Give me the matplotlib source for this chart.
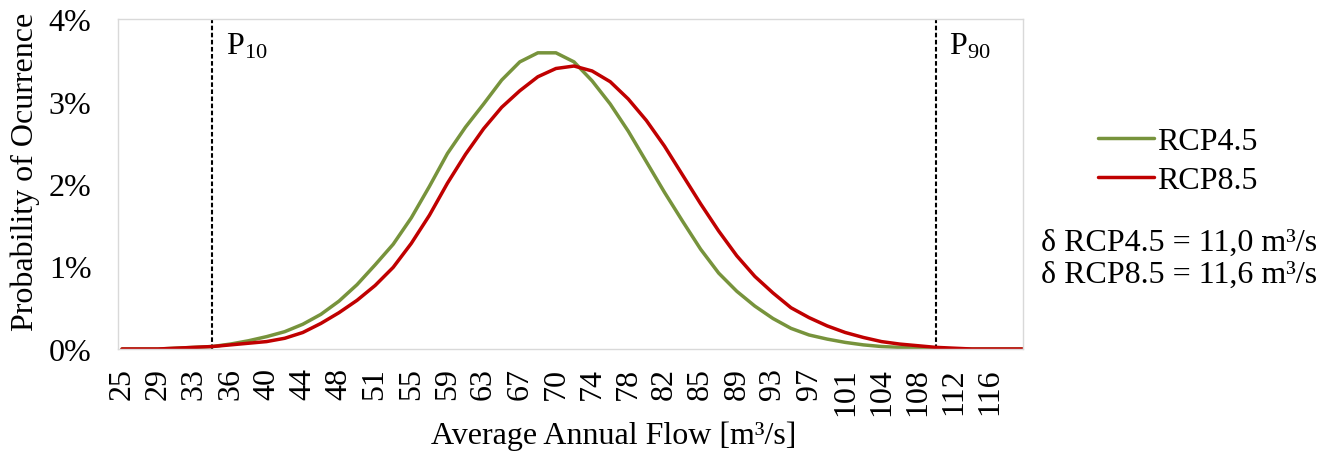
import matplotlib
matplotlib.use("Agg")
import matplotlib.pyplot as plt

# ---- data ----
tick_labels = ["25", "29", "33", "36", "40", "44", "48", "51", "55", "59", "63", "67",
               "70", "74", "78", "82", "85", "89", "93", "97", "101", "104", "108", "112", "116"]
n_categories = 51
rcp45 = [0.00, 0.00, 0.00, 0.01, 0.02, 0.03, 0.06, 0.10, 0.15, 0.21,
         0.30, 0.42, 0.58, 0.78, 1.02, 1.27, 1.59, 1.97, 2.37, 2.69,
         2.97, 3.26, 3.48, 3.59, 3.59, 3.48, 3.25, 2.97, 2.64, 2.27,
         1.90, 1.55, 1.21, 0.92, 0.70, 0.52, 0.37, 0.25, 0.17, 0.12,
         0.08, 0.05, 0.03, 0.02, 0.01, 0.01, 0.00, 0.00, 0.00, 0.00, 0.00]
rcp85 = [0.00, 0.00, 0.00, 0.01, 0.02, 0.03, 0.05, 0.07, 0.09, 0.13,
         0.20, 0.31, 0.44, 0.59, 0.77, 0.99, 1.28, 1.62, 2.01, 2.36,
         2.67, 2.93, 3.13, 3.30, 3.40, 3.43, 3.37, 3.24, 3.03, 2.77,
         2.46, 2.11, 1.76, 1.43, 1.13, 0.88, 0.68, 0.50, 0.38, 0.28,
         0.20, 0.14, 0.09, 0.06, 0.04, 0.02, 0.01, 0.00, 0.00, 0.00, 0.00]
p10_index = 5
p90_index = 45
series_names = ["RCP4.5", "RCP8.5"]
delta_text = ["δ RCP4.5 = 11,0 m³/s", "δ RCP8.5 = 11,6 m³/s"]

plt.rcParams['font.family'] = ['Liberation Serif', 'DejaVu Serif']
plt.rcParams['mathtext.fontset'] = 'custom'
plt.rcParams['mathtext.rm'] = 'Liberation Serif'

W, H = 1336, 452
fig = plt.figure(figsize=(W / 100, H / 100), dpi=100)
ax = fig.add_axes([118 / W, 1 - 350 / H, (1023 - 118) / W, (350 - 20) / H])

x = list(range(n_categories))
green = "#77933C"
red = "#C00000"
fs = 23

ax.plot(x, [v / 100 for v in rcp45], color=green, lw=2.5, label=series_names[0],
        solid_capstyle='round', solid_joinstyle='round')
ax.plot(x, [v / 100 for v in rcp85], color=red, lw=2.5, label=series_names[1],
        solid_capstyle='round', solid_joinstyle='round')

for xi in (p10_index, p90_index):
    ax.axvline(xi, color="black", lw=1.5, linestyle=(0, (2.2, 1.2)), zorder=1)

ax.text(p10_index + 0.75, 0.0367, r"$\mathrm{P_{10}}$", fontsize=fs, va="center", ha="left")
ax.text(p90_index + 0.75, 0.0367, r"$\mathrm{P_{90}}$", fontsize=fs, va="center", ha="left")

ax.set_xlim(-0.22, 49.83)
ax.set_ylim(0, 0.04)
ax.set_xticks(list(range(0, 2 * len(tick_labels), 2)))
ax.set_xticklabels(tick_labels, rotation=90, fontsize=fs)
ax.set_yticks([0, 0.01, 0.02, 0.03, 0.04])
ax.set_yticklabels(["0%", "1%", "2%", "3%", "4%"], fontsize=fs)
ax.tick_params(axis='both', length=0)
ax.tick_params(axis='x', pad=13)
ax.tick_params(axis='y', pad=19)
for s in ax.spines.values():
    s.set_color("#D9D9D9")
    s.set_linewidth(1.0)

ax.set_xlabel("Average Annual Flow [m³/s]", fontsize=fs, labelpad=4)
ax.xaxis.set_label_coords(0.548, -0.218)
ax.set_ylabel("Probability of Ocurrence", fontsize=fs, labelpad=8)
ax.yaxis.set_label_coords(-0.086, 0.54)

leg = fig.legend(loc="center left", bbox_to_anchor=(1098 / W, 1 - 162 / H), frameon=False,
                 fontsize=fs, handlelength=1.75, handletextpad=0.1, labelspacing=0.3,
                 borderaxespad=0, borderpad=0)

fig.text(1041 / W, 1 - 259 / H, "\n".join(delta_text), fontsize=fs, ha="left", va="center",
         linespacing=1.15)

fig.savefig("out.png", dpi=100)
